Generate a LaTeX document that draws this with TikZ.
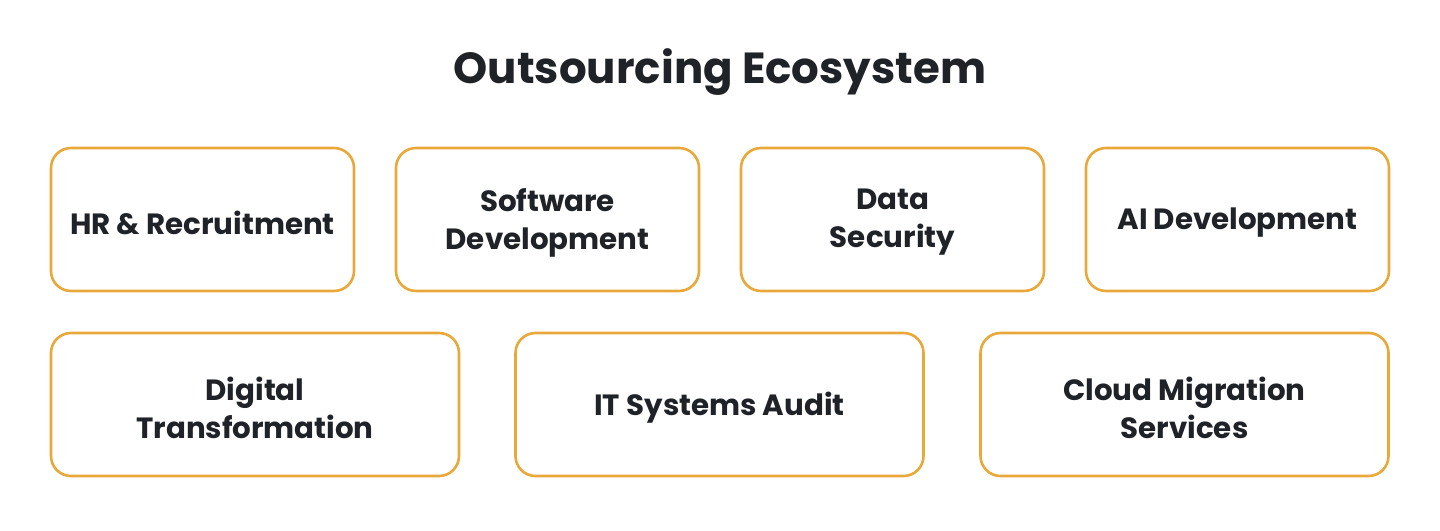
\documentclass[tikz,border=0pt]{standalone}
\usepackage{fontspec}
\setmainfont{Poppins}
\definecolor{boxorange}{HTML}{E9A93A}
\definecolor{ink}{HTML}{1F2328}
\begin{document}
\begin{tikzpicture}[x=1pt,y=-1pt,
  cardtext/.style={align=center, text=ink, inner sep=0pt, yshift=-3pt,
    font=\fontsize{29.3}{38}\selectfont\bfseries},
  card/.style={draw=boxorange, line width=2.6pt, rounded corners=20pt, fill=white,
    minimum height=143pt, inner sep=0pt, label={[cardtext]center:#1}},
  smallcard/.style={card={#1}, minimum width=303pt},
  widecard/.style={card={#1}, minimum width=408pt},
  title/.style={text=ink, font=\fontsize{43.5}{50}\selectfont\bfseries}]
\useasboundingbox[fill=white] (0,0) rectangle (1440,530);
\node[title] (t) at (720,72) {Outsourcing Ecosystem};
\node[smallcard={HR \& Recruitment}] (hr) at (202.5,219.5) {};
\node[smallcard={Software\\Development}] (sw) at (547.5,219.5) {};
\node[smallcard={Data\\Security}] (ds) at (892.5,219.5) {};
\node[smallcard={AI Development}] (ai) at (1237.5,219.5) {};
\node[widecard={Digital\\Transformation}] (dt) at (255,404.5) {};
\node[widecard={IT Systems Audit}] (it) at (719.5,404.5) {};
\node[widecard={Cloud Migration\\Services}] (cm) at (1184.5,404.5) {};
\end{tikzpicture}
\end{document}
